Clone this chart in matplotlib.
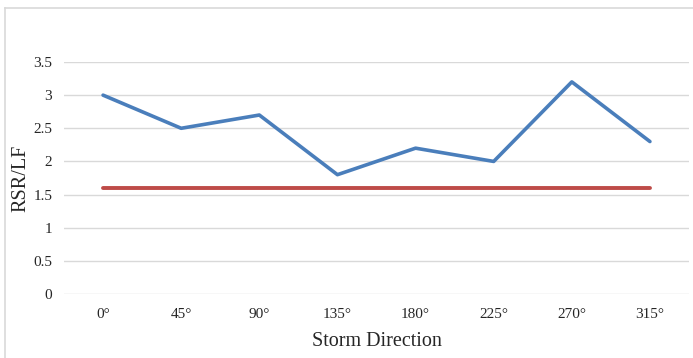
import matplotlib.pyplot as plt
from matplotlib.lines import Line2D

# Data
directions = ['0°', '45°', '90°', '135°', '180°', '225°', '270°', '315°']
rsr_lf = [3.0, 2.5, 2.7, 1.8, 2.2, 2.0, 3.2, 2.3]
limit = [1.6] * len(directions)

plt.rcParams['font.family'] = ['Liberation Serif', 'DejaVu Serif']

fig = plt.figure(figsize=(6.93, 3.58), dpi=100)
ax = fig.add_axes([64 / 693, 1 - 294 / 358, 625 / 693, 232 / 358])

# chart border (top and left edges only visible)
top = 1 - 8 / 358
left = 5 / 693
fig.lines.append(Line2D([left, 1], [top, top], transform=fig.transFigure,
                        color='#d9d9d9', linewidth=1.2))
fig.lines.append(Line2D([left, left], [0, top], transform=fig.transFigure,
                        color='#d9d9d9', linewidth=1.2))

x = range(len(directions))
ax.plot(x, rsr_lf, color='#4A7EBB', linewidth=2.6, solid_capstyle='round')
ax.plot(x, limit, color='#BE4B48', linewidth=2.8, solid_capstyle='round')

ax.set_xlim(-0.5, len(directions) - 0.5)
ax.set_ylim(0, 3.5)
ax.set_yticks([0, 0.5, 1, 1.5, 2, 2.5, 3, 3.5])
ax.set_yticklabels(['0', '0.5', '1', '1.5', '2', '2.5', '3', '3.5'])
ax.set_xticks(list(x))
ax.set_xticklabels(directions)
ax.tick_params(length=0, labelsize=11, colors='#262626')
ax.tick_params(axis='y', pad=8.5)
ax.tick_params(axis='x', pad=10)

ax.grid(axis='y', color='#d9d9d9', linewidth=1)
ax.set_axisbelow(True)
for s in ax.spines.values():
    s.set_visible(False)

ax.set_xlabel('Storm Direction', fontsize=14.5, labelpad=8, color='#262626')
ax.set_ylabel('RSR/LF', fontsize=14.5, color='#262626')
ax.yaxis.set_label_coords(-0.054, 0.5)

fig.savefig('out.png', dpi=100)
